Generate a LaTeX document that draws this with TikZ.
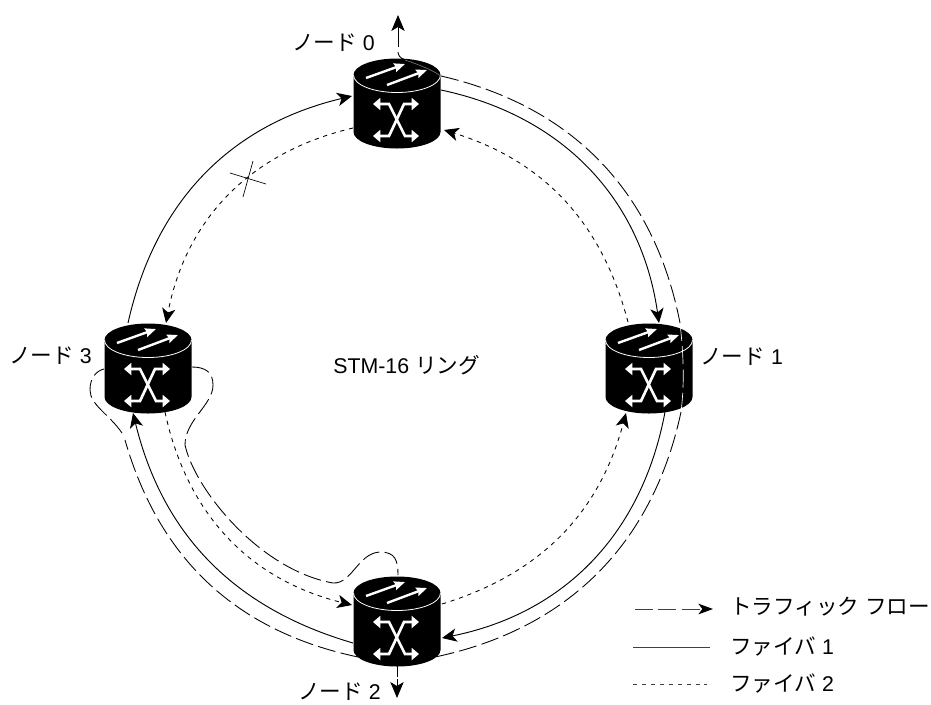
\documentclass[tikz,border=0pt]{standalone}
\usepackage{fontspec}
\setmainfont{Liberation Sans}
\newfontfamily\jpfont{Noto Sans CJK JP}
\usetikzlibrary{arrows.meta,calc}
\tikzset{
  x=0.75pt,y=-0.75pt,
  fiberone/.style={line width=0.7pt,black},
  fibertwo/.style={line width=0.65pt,black,dash pattern=on 3.2pt off 3.5pt},
  traffic/.style={line width=0.65pt,black,dash pattern=on 13.5pt off 4pt},
  tip/.style={-{Stealth[length=11pt,width=10pt,inset=3pt]}},
  lab/.style={font=\fontsize{16}{18}\selectfont,inner sep=0pt},
  whiteflow/.style={white,line width=1.8pt,-{Stealth[length=8pt,width=6.5pt,inset=1pt]}},
  whitex/.style={white,line width=2pt,{Stealth[length=5.5pt,width=9pt,inset=0pt]}-{Stealth[length=5.5pt,width=9pt,inset=0pt]},line join=miter},
  keyline/.style={black!75},
  pics/oxc/.style={code={
    \fill[black] (-43.5,0) -- (-43.5,57) arc[start angle=180,end angle=360,x radius=43.5,y radius=-16.5] -- (43.5,0) arc[start angle=0,end angle=180,x radius=43.5,y radius=-16.5] -- cycle;
    \draw[white,line width=0.6pt] (-43.5,0) arc[start angle=180,end angle=360,x radius=43.5,y radius=-17.5];
    \draw[whiteflow] (-31,3) -- (8,-11);
    \draw[whiteflow] (-10,10) -- (30,-5);
    \draw[whitex] (-24,29) -- (-8,29) -- (8,61) -- (22,61);
    \draw[whitex] (22,29) -- (7,29) -- (-8,61) -- (-24,61);
  }}
}
\newcommand{\jp}[1]{{\jpfont\fontsize{16.2}{18}\selectfont #1}}
\begin{document}
\begin{tikzpicture}
\useasboundingbox (0,0) rectangle (931,704);
\coordinate (c0) at (397,75);
\coordinate (c1) at (649,340);
\coordinate (c2) at (397,593);
\coordinate (c3) at (148,340);
\pic at (c0) {oxc};
\pic at (c1) {oxc};
\pic at (c2) {oxc};
\pic at (c3) {oxc};
% fibre 1
\draw[fiberone,tip] ($(c0)+(44,15)$) to[bend left=35] ($(c1)+(10,-17)$);
\draw[fiberone,tip] ($(c1)+(16,72)$) to[bend left=34] ($(c2)+(45,45)$);
\draw[fiberone,tip] ($(c2)+(-44,50)$) to[bend left=30] ($(c3)+(-15,73)$);
\draw[fiberone,tip] ($(c3)+(-20,-17)$) to[bend left=32] ($(c0)+(-45,21)$);
% fibre 2
\draw[fibertwo,tip] ($(c0)+(-44,53)$) to[bend right=33] ($(c3)+(18,-17)$);
\draw[fibertwo,tip] ($(c3)+(17,72)$) to[bend right=32] ($(c2)+(-45,12)$);
\draw[fibertwo,tip] ($(c2)+(45,11)$) to[bend right=29] ($(c1)+(-23,73)$);
\draw[fibertwo,tip] ($(c1)+(-21,-18)$) to[bend right=29] ($(c0)+(47,55)$);
% traffic
\coordinate (up) at (398,15);
\coordinate (down) at (397,698);
\draw[line width=0.65pt] (405,60) .. controls (400,58) and (398,55) .. (398,52);
\draw[line width=0.5pt,black!55] (405,60) .. controls (420,65) and (432,70) .. ($(c0)+(44,1)$);
\draw[line width=0.65pt,-{Stealth[length=12pt,width=10pt,inset=3pt]}] (398,47) -- (up);
\draw[traffic] ($(c0)+(44,1)$) to[bend left=33] ($(c1)+(31,-17)$);
\draw[white,line width=0.5pt,dash pattern=on 13.5pt off 4pt] ($(c1)+(31,-17)$) .. controls ($(c1)+(34,10)$) and ($(c1)+(36,40)$) .. ($(c1)+(32,72)$);
\draw[traffic] ($(c1)+(32,72)$) to[bend left=33] ($(c2)+(38,64)$);
\draw[traffic] ($(c2)+(-39,64)$) to[bend left=31] (125,440);
\draw[traffic] (122,433) .. controls (110,415) and (90,405) .. (90,390) .. controls (90,378) and (96,371) .. ($(c3)+(-44,29)$);
\draw[traffic] ($(c3)+(44,27)$) .. controls (205,367) and (213,372) .. (213,385) .. controls (213,405) and (185,420) .. (185,445) .. controls (195,490) and (260,570) .. (333,583) .. controls (352,584) and (358,553) .. (380,552) .. controls (395,552) and (398,560) .. (398,575);
\draw[line width=0.65pt,dash pattern=on 8pt off 2pt,-{Stealth[length=12pt,width=10pt,inset=3pt]}] ($(c2)+(0,73)$) -- (down);
% cross mark
\coordinate (xa) at (230,173);
\coordinate (xb) at (266,184);
\coordinate (xc) at (253,161);
\coordinate (xd) at (243,197);
\draw[line width=0.5pt] (xa) -- (xb);
\draw[line width=0.5pt] (xc) -- (xd);
% labels
\node[lab,anchor=east] (l0) at (375,43) {\jp{ノード} 0};
\node[lab,anchor=west] (l1) at (700,357) {\jp{ノード} 1};
\node[lab,anchor=east] (l2) at (381,692) {\jp{ノード} 2};
\node[lab,anchor=east] (l3) at (92,356) {\jp{ノード} 3};
\node[lab,anchor=west] (ring) at (333,365) {STM-16 \jp{リング}};
\node[lab,anchor=west] (t1) at (730,607) {\jp{トラフィック} \jp{フロー}};
\node[lab,anchor=west] (t2) at (730,646) {\jp{ファイバ} 1};
\node[lab,anchor=west] (t3) at (730,683) {\jp{ファイバ} 2};
\coordinate (k1a) at (635,609);
\coordinate (k1b) at (713,609);
\coordinate (k2a) at (633,647);
\coordinate (k2b) at (710,647);
\coordinate (k3a) at (633,684);
\coordinate (k3b) at (707,684);
\draw[traffic,keyline,-{Stealth[length=11pt,width=8pt,inset=3pt,black]}] (k1a) -- (k1b);
\draw[fiberone,keyline] (k2a) -- (k2b);
\draw[fibertwo,keyline] (k3a) -- (k3b);
\end{tikzpicture}
\end{document}
